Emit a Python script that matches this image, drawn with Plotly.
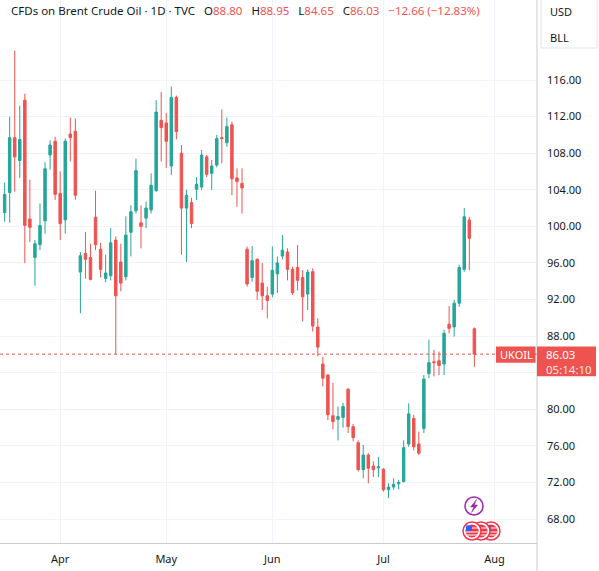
import pandas as pd
import plotly.graph_objects as go

# daily bars, CFDs on Brent Crude Oil
opens = [101.5, 103.7, 109.7, 107.2, 113.8, 100.8, 96.6, 98.0, 100.6, 107.8,
         109.3, 103.6, 100.7, 110.1, 110.4, 95.0, 97.05, 96.6, 101.0, 97.5,
         94.3, 94.6, 98.5, 96.1, 94.5, 99.35, 101.7, 100.4, 100.9, 101.8,
         103.9, 111.6, 111.3, 106.6, 114.1, 108.0, 102.0, 102.6, 104.05, 104.3,
         107.6, 105.8, 106.7, 109.7, 109.15, 111.1, 105.3, 104.7, 97.5, 94.4,
         96.4, 93.8, 92.4, 92.6, 94.8, 96.76, 97.2, 95.3, 95.5, 94.4,
         92.6, 95.05, 89.0, 84.95, 83.75, 79.3, 78.9, 79.1, 82.2, 78.1,
         76.35, 73.4, 75.0, 73.8, 73.6, 73.45, 71.2, 71.5, 71.85, 72.1,
         76.2, 79.0, 76.2, 77.9, 83.9, 85.2, 85.3, 84.95, 89.3, 89.0,
         91.6, 95.3, 100.7, 88.80]
highs = [104.8, 112.0, 119.2, 113.2, 114.5, 105.1, 98.5, 102.5, 107.0, 109.4,
         109.8, 106.0, 109.6, 111.9, 111.8, 97.2, 99.4, 98.1, 103.9, 98.2,
         96.9, 99.8, 98.9, 98.1, 101.1, 102.3, 107.4, 102.3, 102.7, 105.8,
         113.8, 114.7, 112.4, 115.3, 114.3, 108.9, 104.0, 103.1, 105.4, 108.35,
         107.8, 107.25, 110.0, 112.8, 111.9, 111.45, 106.35, 106.35, 97.8, 97.85,
         96.5, 96.0, 93.4, 97.8, 96.7, 99.05, 97.6, 95.6, 97.96, 95.2,
         95.3, 95.4, 89.95, 85.75, 83.85, 82.9, 80.3, 80.7, 82.3, 78.4,
         76.6, 76.1, 75.2, 74.3, 74.8, 73.55, 71.9, 72.45, 72.3, 76.6,
         80.65, 79.4, 77.55, 83.75, 87.6, 86.5, 86.3, 88.7, 91.3, 91.95,
         95.8, 102.0, 101.05, 88.95]
lows = [100.5, 100.4, 103.8, 105.3, 96.0, 98.3, 93.5, 97.4, 99.2, 106.2,
        102.9, 98.5, 99.2, 107.1, 102.9, 90.5, 94.3, 94.1, 97.4, 94.4,
        93.9, 94.1, 86.0, 92.9, 94.1, 96.7, 101.4, 97.6, 99.8, 101.4,
        103.8, 107.1, 106.4, 105.6, 109.5, 96.9, 96.1, 99.8, 102.9, 104.0,
        105.4, 104.0, 106.45, 106.9, 108.7, 103.4, 102.15, 101.4, 93.4, 93.95,
        91.95, 90.85, 89.95, 92.25, 92.7, 96.4, 94.1, 92.5, 93.0, 89.6,
        90.85, 88.5, 85.8, 82.5, 78.8, 77.8, 76.6, 78.0, 77.4, 76.5,
        73.2, 72.45, 71.9, 72.6, 72.6, 71.0, 70.3, 71.2, 71.25, 72.0,
        75.9, 75.5, 75.0, 77.4, 83.4, 83.6, 83.75, 83.75, 88.3, 87.95,
        91.2, 95.05, 95.2, 84.65]
closes = [103.5, 109.7, 107.6, 109.5, 100.1, 99.9, 98.1, 100.1, 106.3, 108.9,
          103.5, 100.3, 109.3, 109.7, 103.4, 96.8, 96.4, 94.2, 98.0, 95.3,
          94.9, 98.2, 92.4, 93.8, 99.05, 101.6, 106.1, 100.0, 102.0, 104.5,
          112.5, 110.8, 109.3, 114.1, 110.35, 102.0, 103.4, 100.3, 104.6, 107.8,
          105.7, 106.6, 109.6, 109.6, 110.9, 105.2, 104.9, 104.2, 93.7, 96.25,
          92.9, 92.4, 91.9, 95.2, 96.0, 97.4, 95.3, 92.75, 94.1, 92.3,
          95.0, 89.1, 86.8, 83.4, 79.4, 78.65, 79.2, 80.3, 78.1, 76.9,
          73.4, 75.0, 73.55, 73.4, 73.7, 71.2, 71.5, 71.8, 72.0, 75.8,
          79.5, 75.9, 75.2, 83.3, 85.1, 85.1, 84.8, 88.3, 88.85, 91.6,
          95.5, 101.05, 98.69, 86.03]

holidays = ["2021-04-02"]
dates = pd.bdate_range("2021-03-17", "2021-07-27")
dates = dates[~dates.isin(pd.to_datetime(holidays))]

month_ticks = ["2021-04-01", "2021-05-03", "2021-06-01", "2021-07-01", "2021-08-02"]
month_labels = ["Apr", "May", "Jun", "Jul", "Aug"]

price_ticks = list(range(68, 120, 4))
price_labels = ["" if v == 84 else "%.2f" % v for v in price_ticks]

UP = "#26a69a"
DOWN = "#ef5350"
TXT = "#131722"
FONT = "Noto Sans"
YMIN, YMAX = 65.38, 124.75

# plot area is 537 x 543 px; helpers to place things in pixels
PW, PH = 537.0, 543.0


def px(x):
    return x / PW


def py(y):
    return 1 - y / PH


fig = go.Figure(go.Candlestick(
    x=dates, open=opens, high=highs, low=lows, close=closes,
    increasing=dict(line=dict(color=UP, width=1), fillcolor=UP),
    decreasing=dict(line=dict(color=DOWN, width=1), fillcolor=DOWN),
    whiskerwidth=0, hoverinfo="skip"))

last = closes[-1]
prev = closes[-2]
chg = last - prev
pct = chg / prev * 100
last_px = (YMAX - last) / (YMAX - YMIN) * PH

fig.update_layout(
    width=599, height=571,
    margin=dict(l=0, r=62, t=0, b=28),
    paper_bgcolor="white", plot_bgcolor="white",
    showlegend=False,
    font=dict(family=FONT, size=11, color=TXT),
    xaxis=dict(
        type="date", rangeslider=dict(visible=False),
        rangebreaks=[dict(bounds=["sat", "mon"]), dict(values=holidays)],
        range=["2021-03-16 02:00", "2021-08-12 09:36"],
        tickvals=month_ticks, ticktext=month_labels,
        showgrid=True, gridcolor="#f0f3fa", gridwidth=1,
        showline=True, linecolor="#c9cbd1", linewidth=1,
        ticks="", ticklabelstandoff=6,
        tickfont=dict(size=11, color=TXT), zeroline=False),
    yaxis=dict(
        side="right", range=[YMIN, YMAX],
        tickvals=price_ticks, ticktext=price_labels,
        showgrid=True, gridcolor="#f0f3fa", gridwidth=1,
        showline=False, ticks="", ticklabelstandoff=9,
        tickfont=dict(size=11, color=TXT), zeroline=False),
)

shapes = [
    # last price dotted line
    dict(type="line", xref="paper", yref="y", x0=0, x1=1, y0=last, y1=last,
         line=dict(color=DOWN, width=1, dash="dot")),
    # right scale border, runs into the time scale row
    dict(type="line", xref="paper", yref="paper", x0=1, x1=1, y0=py(571), y1=1,
         line=dict(color="#c9cbd1", width=1)),
    # currency / unit box
    dict(type="rect", xref="paper", yref="paper", x0=px(541), x1=px(597),
         y0=py(48), y1=py(-2), line=dict(color="#e0e3eb", width=1),
         fillcolor="white"),
    # last price label boxes
    dict(type="rect", xref="paper", yref="paper", x0=px(496), x1=px(535.5),
         y0=py(last_px + 8.6), y1=py(last_px - 7.6),
         line=dict(width=0), fillcolor=DOWN),
    dict(type="rect", xref="paper", yref="paper", x0=px(537), x1=px(596),
         y0=py(last_px + 22), y1=py(last_px - 7.6),
         line=dict(width=0), fillcolor=DOWN),
    # purple lightning badge
    dict(type="circle", xref="paper", yref="paper", x0=px(465), x1=px(483),
         y0=py(515), y1=py(497), line=dict(color="#9c27b0", width=1.5),
         fillcolor="white"),
    dict(type="path", xref="paper", yref="paper",
         path="M %f,%f L %f,%f L %f,%f L %f,%f L %f,%f L %f,%f Z" % (
             px(476.5), py(499.5), px(470.5), py(507), px(473.8), py(507),
             px(471.5), py(512.5), px(477.5), py(505), px(474.2), py(505)),
         line=dict(color="#9c27b0", width=0.5), fillcolor="#9c27b0"),
]
# flag badges, back to front
for cx in [491, 481, 472]:
    shapes.append(dict(type="circle", xref="paper", yref="paper",
                       x0=px(cx - 9), x1=px(cx + 9), y0=py(540), y1=py(522),
                       line=dict(color="#f23645", width=1.5), fillcolor="white"))
    shapes.append(dict(type="circle", xref="paper", yref="paper",
                       x0=px(cx - 6.5), x1=px(cx + 6.5), y0=py(537.5), y1=py(524.5),
                       line=dict(width=0), fillcolor="#f23645"))
    shapes.append(dict(type="rect", xref="paper", yref="paper",
                       x0=px(cx - 6), x1=px(cx - 0.5), y0=py(531), y1=py(525.5),
                       line=dict(width=0), fillcolor="#2962ff"))
    for sy in [528, 532, 535]:
        shapes.append(dict(type="line", xref="paper", yref="paper",
                           x0=px(cx - 6 if sy > 531 else cx), x1=px(cx + 6),
                           y0=py(sy), y1=py(sy),
                           line=dict(color="white", width=1)))
fig.update_layout(shapes=shapes)

red = "<span style='color:%s'>%s</span>"
sep = "\u00a0\u00a0 "
header = ("CFDs on Brent Crude Oil \u00b7 1D \u00b7 TVC" + sep
          + "O" + red % (DOWN, "%.2f" % opens[-1]) + sep
          + "H" + red % (DOWN, "%.2f" % highs[-1]) + sep
          + "L" + red % (DOWN, "%.2f" % lows[-1]) + sep
          + "C" + red % (DOWN, "%.2f" % last) + sep
          + red % (DOWN, "\u2212%.2f (\u2212%.2f%%)" % (-chg, -pct)))

fig.add_annotation(xref="paper", yref="paper", x=px(9), y=py(11),
                   xanchor="left", yanchor="middle", showarrow=False,
                   text=header, font=dict(size=11.5, color=TXT))
fig.add_annotation(xref="paper", yref="paper", x=px(548), y=py(12),
                   xanchor="left", yanchor="middle", showarrow=False,
                   text="USD", font=dict(size=11, color=TXT))
fig.add_annotation(xref="paper", yref="paper", x=px(548), y=py(37),
                   xanchor="left", yanchor="middle", showarrow=False,
                   text="BLL", font=dict(size=11, color=TXT))
# last price label texts
fig.add_annotation(xref="paper", yref="paper", x=px(516), y=py(last_px + 0.5),
                   xanchor="center", yanchor="middle", showarrow=False,
                   text="UKOIL", font=dict(size=11, color="white"))
fig.add_annotation(xref="paper", yref="paper", x=px(544), y=py(last_px + 0.5),
                   xanchor="left", yanchor="middle", showarrow=False,
                   text="%.2f" % last, font=dict(size=11.5, color="white"))
fig.add_annotation(xref="paper", yref="paper", x=px(544), y=py(last_px + 15),
                   xanchor="left", yanchor="middle", showarrow=False,
                   text="05:14:10", font=dict(size=11.5, color="#fde3e3"))

# the page sits flush in the window, like the chart screenshot
fig.write_html("out.html", config={"displayModeBar": False},
               post_script="document.body.style.margin='0px';")
